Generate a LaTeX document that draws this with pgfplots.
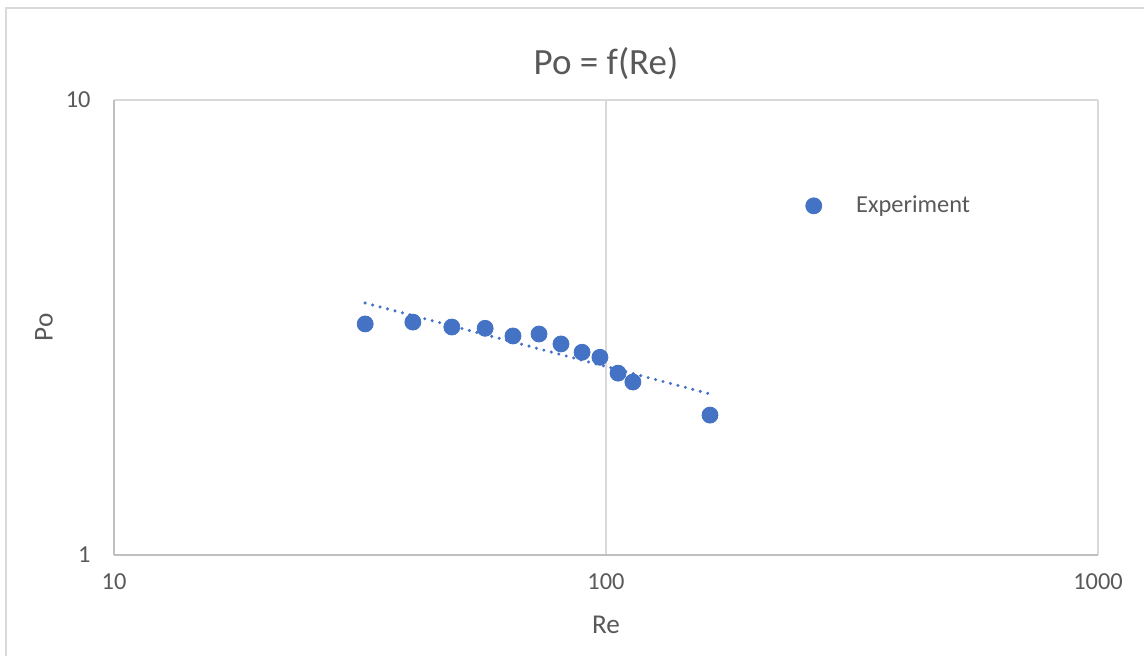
\documentclass[border=0pt]{standalone}
\usepackage{pgfplots}
\pgfplotsset{compat=1.18}
\usepackage{fontspec}
\setmainfont{Carlito}
\definecolor{txt}{HTML}{595959}
\definecolor{ser}{HTML}{4472C4}
\definecolor{axl}{HTML}{BFBFBF}
\definecolor{grd}{HTML}{D9D9D9}
\begin{document}
\begin{tikzpicture}
\useasboundingbox (-57pt,-50pt) rectangle (515pt,277.5pt);
\draw[grd, line width=0.8pt] (-54pt,-52pt) -- (-54pt,273.5pt) -- (517pt,273.5pt);
\begin{axis}[
  scale only axis,
  width=492pt, height=227.5pt,
  xmode=log, ymode=log,
  xmin=10, xmax=1000, ymin=1, ymax=10,
  xtick={10,100,1000}, xticklabels={10,100,1000},
  ytick={1,10}, yticklabels={1,10},
  minor xtick={}, minor ytick={},
  major tick length=0pt, minor tick length=0pt,
  /pgf/number format/assume math mode=true,
  axis lines*=left,
  axis line style={axl, line width=0.8pt},
  grid=major,
  major grid style={grd, line width=0.8pt},
  tick label style={font=\fontsize{12.2pt}{14pt}\selectfont, text=txt},
  xticklabel style={anchor=center, yshift=-13.5pt, inner sep=0pt},
  yticklabel style={anchor=east, xshift=-11.5pt, inner sep=0pt},
  xlabel={Re}, ylabel={Po},
  label style={font=\fontsize{13.6pt}{16pt}\selectfont, text=txt},
  xlabel style={at={(axis description cs:0.5,0)}, anchor=center, yshift=-35pt},
  ylabel style={at={(axis description cs:0,0.5)}, anchor=center, rotate=0, yshift=35pt},
  title={Po = f(Re)},
  title style={font=\fontsize{18.5pt}{22pt}\selectfont, text=txt, at={(axis description cs:0.5,1)}, anchor=center, yshift=12pt},
  legend style={at={(axis description cs:0.7022,0.7674)}, anchor=west, draw=none, fill=none, inner sep=0pt,
    nodes={inner sep=0pt, text=txt}, font=\fontsize{12.2pt}{14pt}\selectfont},
  legend image code/.code={\path (0pt,0pt) (25pt,0pt); \draw[#1] plot coordinates {(4pt,0pt)};},
]
\addplot[only marks, mark=*, mark size=4pt, color=ser, mark options={fill=ser, draw=ser}] coordinates {
(32.4,3.22) (40.5,3.25) (48.6,3.17) (56.8,3.15) (64.7,3.03) (73.1,3.06)
(81.0,2.91) (89.4,2.79) (97.2,2.72) (105.8,2.51) (113.4,2.40) (162.7,2.03)
};
\addlegendentry{Experiment}
\addplot[ser, line width=1.7pt, line cap=round, dash pattern=on 0pt off 3.85pt, forget plot] coordinates {
(32.4,3.58) (162.7,2.26)
};
\end{axis}
\end{tikzpicture}
\end{document}
